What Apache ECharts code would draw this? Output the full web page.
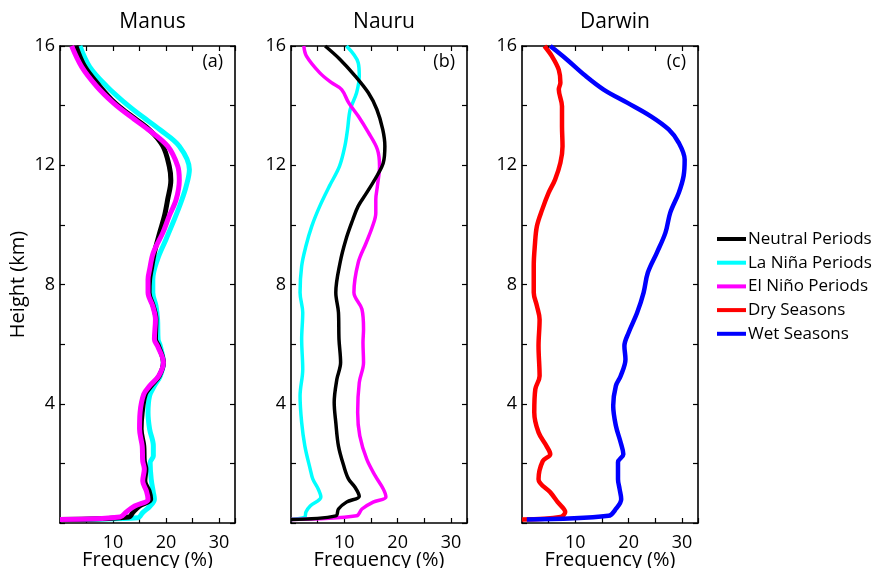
<!DOCTYPE html>
<html>
<head>
<meta charset="utf-8">
<script src="https://cdn.jsdelivr.net/npm/echarts@6/dist/echarts.min.js"></script>
<style>
  html, body { margin: 0; padding: 0; background: #fff; }
  #main { width: 872px; height: 568px; }
</style>
</head>
<body>
<div id="main"></div>
<script type="text/javascript">
// station names and panel tags
var stations = ['Manus', 'Nauru', 'Darwin'];
var tags = ['(a)', '(b)', '(c)'];
var legendNames = ['Neutral Periods', 'La Niña Periods', 'El Niño Periods', 'Dry Seasons', 'Wet Seasons'];
var yTickLabels = [4, 8, 12, 16];
var xTickLabels = [10, 20, 30];

// Manus: heights (km) and frequency (%)
var manusNeutralH = [0.12, 0.2, 0.37, 0.57, 0.8, 1.07, 1.41, 1.81, 2.08, 2.58, 3.15, 3.71, 4.32, 4.6, 4.93, 5.38, 5.93, 6.16, 6.83, 7.27, 7.73, 8.17, 8.5, 9.07, 9.74, 10.3, 10.85, 11.5, 11.97, 12.64, 13.2, 13.7, 14.1, 14.65, 15.3, 16];
var manusNeutral = [0, 13.0, 13.8, 15.0, 17.1, 16.8, 16.0, 16.2, 15.9, 15.8, 15.3, 15.5, 16.1, 17.2, 18.7, 19.5, 18.6, 18.0, 18.1, 17.6, 16.8, 16.9, 17.2, 17.8, 18.8, 19.7, 20.3, 20.9, 20.6, 19.4, 16.8, 13.1, 10.3, 7.5, 4.7, 3.0];
var manusLaNinaH = [0.12, 0.18, 0.35, 0.57, 0.8, 1.03, 1.47, 2.03, 2.25, 2.59, 3.15, 3.71, 4.27, 4.6, 4.93, 5.38, 5.94, 6.16, 6.83, 7.28, 7.73, 8.17, 8.85, 9.52, 10.2, 10.75, 11.3, 11.86, 12.64, 13.2, 13.7, 14.1, 14.65, 15.3, 16];
var manusLaNina = [0, 14.7, 15.6, 17.0, 17.8, 17.6, 17.2, 17.0, 17.6, 17.6, 16.9, 16.6, 16.9, 17.8, 18.9, 19.5, 18.9, 18.5, 18.4, 18.1, 17.5, 17.5, 18.4, 20.0, 21.6, 22.8, 23.8, 24.4, 22.5, 18.8, 15.0, 12.2, 8.8, 5.6, 3.75];
var manusElNinoH = [0.12, 0.2, 0.37, 0.57, 0.8, 1.07, 1.41, 1.81, 2.08, 2.58, 3.15, 3.71, 4.32, 4.6, 4.93, 5.38, 5.93, 6.16, 6.83, 7.27, 7.73, 8.17, 8.5, 9.07, 9.74, 10.3, 10.85, 11.5, 11.97, 12.64, 13.2, 13.7, 14.1, 14.65, 15.3, 16];
var manusElNino = [0, 11.3, 12.5, 14.1, 16.6, 16.3, 15.6, 15.9, 15.6, 15.5, 15.0, 15.1, 15.8, 16.9, 18.6, 19.5, 18.4, 17.8, 18.0, 17.5, 16.6, 16.6, 16.9, 17.6, 19.4, 20.6, 21.9, 22.5, 22.2, 20.3, 16.6, 12.8, 10.0, 6.9, 4.1, 2.2];

// Nauru
var nauruNeutralH = [0.12, 0.24, 0.47, 0.7, 0.9, 1.2, 1.47, 1.91, 2.58, 3.37, 4.04, 4.82, 5.38, 6.16, 7.06, 7.73, 8.73, 9.51, 10.18, 10.63, 11.08, 11.64, 12.08, 12.64, 13.2, 13.87, 14.43, 15.0, 15.55, 16];
var nauruNeutral = [0, 8.4, 8.9, 10.4, 12.8, 12.0, 10.8, 9.9, 8.9, 8.4, 8.1, 8.6, 9.3, 9.0, 8.9, 8.4, 9.2, 10.3, 11.6, 12.6, 14.2, 16.1, 17.3, 17.6, 17.2, 16.1, 14.5, 12.0, 9.2, 6.4];
var nauruLaNinaH = [0.12, 0.2, 0.37, 0.57, 0.87, 1.14, 1.47, 1.81, 2.58, 3.37, 4.26, 5.16, 6.16, 7.06, 7.73, 8.62, 9.29, 9.96, 10.63, 11.3, 11.97, 12.64, 13.2, 13.87, 14.43, 15.0, 15.44, 16];
var nauruLaNina = [0, 2.6, 2.8, 3.6, 5.6, 5.1, 4.1, 3.6, 2.6, 2.0, 1.7, 2.2, 2.0, 2.2, 1.7, 2.0, 2.8, 3.9, 5.4, 7.2, 9.1, 10.1, 10.6, 11.1, 12.3, 12.8, 12.6, 10.4];
var nauruElNinoH = [0.12, 0.24, 0.47, 0.7, 0.87, 1.14, 1.58, 2.14, 2.92, 3.71, 4.71, 5.38, 6.05, 6.5, 7.17, 7.73, 8.73, 9.4, 9.96, 10.4, 10.85, 11.3, 11.97, 12.53, 13.1, 13.65, 14.1, 14.54, 14.77, 15.1, 15.66, 16];
var nauruElNino = [0, 12.3, 13.3, 15.4, 17.8, 17.3, 15.8, 14.2, 12.9, 12.5, 12.8, 13.6, 13.5, 13.6, 13.3, 11.8, 12.6, 14.1, 15.3, 15.9, 15.9, 16.2, 16.6, 16.2, 14.5, 12.6, 10.8, 9.5, 7.6, 5.4, 2.9, 2.4];

// Darwin
var darwinDryH = [0.12, 0.2, 0.37, 0.7, 1.03, 1.47, 2.08, 2.31, 2.58, 3.04, 3.71, 4.49, 4.93, 5.94, 6.83, 7.28, 7.73, 8.62, 9.29, 9.96, 10.52, 11.08, 11.52, 12.08, 12.64, 13.31, 13.98, 14.54, 14.77, 15.2, 15.66, 16];
var darwinDry = [0, 7.2, 8.1, 6.7, 5.3, 3.1, 3.9, 5.3, 4.6, 3.1, 2.3, 2.5, 3.3, 3.1, 3.3, 2.8, 2.2, 2.2, 2.4, 2.8, 3.8, 5.0, 6.2, 7.2, 7.6, 7.5, 7.5, 6.9, 7.2, 6.9, 5.6, 4.2];
var darwinWetH = [0.12, 0.24, 0.47, 0.8, 1.14, 1.47, 2.04, 2.31, 2.7, 3.26, 3.93, 4.6, 4.93, 5.49, 5.94, 6.39, 7.06, 7.73, 8.4, 9.07, 9.74, 10.41, 11.08, 11.64, 12.19, 12.75, 13.2, 13.65, 14.1, 14.54, 15.0, 15.55, 16];
var darwinWet = [0.9, 16.2, 17.6, 18.6, 18.3, 18.0, 18.0, 19.0, 18.5, 17.6, 17.1, 17.6, 18.5, 19.4, 19.2, 20.0, 21.6, 22.8, 23.6, 25.3, 26.9, 27.8, 29.4, 30.3, 30.5, 29.4, 27.5, 24.1, 19.7, 15.3, 11.9, 8.4, 5.3];

var colors = {
    'Neutral Periods': '#000000',
    'La Niña Periods': '#00ffff',
    'El Niño Periods': '#ff00ff',
    'Dry Seasons': '#ff0000',
    'Wet Seasons': '#0000ff'
};

var FONT = 'Open Sans';
var grids = [
    {left: 60, top: 46, width: 175, height: 477, outerBoundsMode: 'none'},
    {left: 291, top: 46, width: 176, height: 477, outerBoundsMode: 'none'},
    {left: 522, top: 46, width: 176, height: 477, outerBoundsMode: 'none'}
];

function pairs(xs, hs) {
    var out = [];
    for (var i = 0; i < xs.length; i++) out.push([xs[i], hs[i]]);
    return out;
}

function mkSeries(name, xs, hs, gi, width) {
    return {
        name: name,
        type: 'line',
        xAxisIndex: gi * 2,
        yAxisIndex: gi * 2,
        data: pairs(xs, hs),
        showSymbol: false,
        smooth: 0.35,
        color: colors[name],
        lineStyle: {width: width, color: colors[name]},
        animation: false
    };
}

var xAxes = [], yAxes = [];
for (var g = 0; g < 3; g++) {
    var common = {
        type: 'value',
        gridIndex: g,
        axisLine: {show: true, onZero: false, lineStyle: {color: '#000', width: 1.6}},
        axisTick: {show: true, inside: true, length: 5, lineStyle: {color: '#000', width: 1.2}},
        splitLine: {show: false}
    };
    xAxes.push(Object.assign({}, common, {
        position: 'bottom', min: 0, max: 33, interval: 5,
        name: 'Frequency (%)', nameLocation: 'middle', nameGap: 27, nameMoveOverlap: false,
        nameTextStyle: {fontFamily: FONT, fontSize: 20, color: '#000'},
        axisLabel: {
            show: true, margin: 11, fontFamily: FONT, fontSize: 18, color: '#000',
            formatter: function (v) { return xTickLabels.indexOf(v) >= 0 ? String(v) : ''; }
        }
    }));
    xAxes.push(Object.assign({}, common, {
        position: 'top', min: 0, max: 33, interval: 5, axisLabel: {show: false}
    }));
    yAxes.push(Object.assign({}, common, {
        position: 'left', min: 0, max: 16, interval: 2,
        name: g === 0 ? 'Height (km)' : '', nameLocation: 'middle', nameGap: 32, nameMoveOverlap: false,
        nameTextStyle: {fontFamily: FONT, fontSize: 20, color: '#000'},
        axisLabel: {
            show: true, margin: 5, fontFamily: FONT, fontSize: 18, color: '#000',
            formatter: function (v) { return yTickLabels.indexOf(v) >= 0 ? String(v) : ''; }
        }
    }));
    yAxes.push(Object.assign({}, common, {
        position: 'right', min: 0, max: 16, interval: 2, axisLabel: {show: false}
    }));
}

var series = [
    mkSeries('La Niña Periods', manusLaNina, manusLaNinaH, 0, 5),
    mkSeries('Neutral Periods', manusNeutral, manusNeutralH, 0, 5),
    mkSeries('El Niño Periods', manusElNino, manusElNinoH, 0, 5),
    mkSeries('La Niña Periods', nauruLaNina, nauruLaNinaH, 1, 3.5),
    mkSeries('El Niño Periods', nauruElNino, nauruElNinoH, 1, 3.5),
    mkSeries('Neutral Periods', nauruNeutral, nauruNeutralH, 1, 3.5),
    mkSeries('Dry Seasons', darwinDry, darwinDryH, 2, 4.5),
    mkSeries('Wet Seasons', darwinWet, darwinWetH, 2, 4.5)
];

var titles = [], graphics = [];
for (var k = 0; k < 3; k++) {
    var cx = grids[k].left + grids[k].width / 2;
    titles.push({
        text: stations[k], left: cx, top: 7, textAlign: 'center',
        textStyle: {fontFamily: FONT, fontSize: 21, fontWeight: 'normal', color: '#000'}
    });
    graphics.push({
        type: 'text', x: grids[k].left + grids[k].width - 12, y: 53,
        style: {text: tags[k], fontFamily: FONT, fontSize: 18, fill: '#000', textAlign: 'right'}
    });
}

var myChart = echarts.init(document.getElementById('main'), null, {renderer: 'canvas'});
var option = {
    backgroundColor: '#fff',
    animation: false,
    title: titles,
    grid: grids,
    xAxis: xAxes,
    yAxis: yAxes,
    legend: {
        data: legendNames.map(function (n) { return {name: n, icon: 'rect'}; }),
        orient: 'vertical',
        left: 712, top: 224,
        itemWidth: 29, itemHeight: 4, itemGap: 3.7,
        selectedMode: false,
        textStyle: {fontFamily: FONT, fontSize: 17, color: '#000', lineHeight: 20, padding: [0, 0, 0, -3]}
    },
    graphic: graphics,
    series: series
};
myChart.setOption(option);
</script>
</body>
</html>
